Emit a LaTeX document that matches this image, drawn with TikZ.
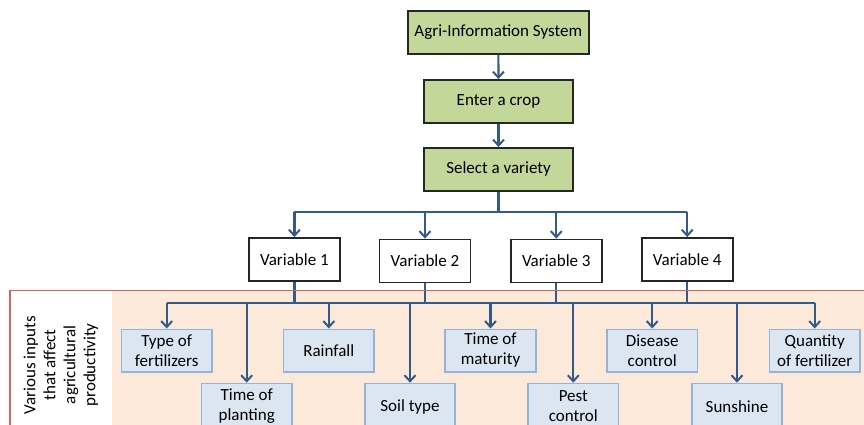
\documentclass[tikz,border=0pt]{standalone}
\usepackage{fontspec}
\setmainfont{Carlito}
\usetikzlibrary{arrows.meta}
\definecolor{arrowblue}{RGB}{52,90,140}
\definecolor{greenfill}{RGB}{196,215,155}
\definecolor{bluefill}{RGB}{220,230,242}
\definecolor{blueborder}{RGB}{149,179,215}
\definecolor{pinkfill}{RGB}{253,233,217}
\definecolor{redborder}{RGB}{212,100,96}
\tikzset{
  txt/.style={font=\fontsize{17}{20}\selectfont, align=center, inner sep=0pt},
  greenbox/.style={txt, draw=black!85, line width=1.8pt, fill=greenfill, minimum height=42.7pt},
  varbox/.style={txt, draw=black!85, line width=1.8pt, fill=white, minimum width=91pt, minimum height=43pt},
  itembox/.style={txt, draw=blueborder, line width=1.6pt, fill=bluefill, minimum width=90.5pt},
  conn/.style={draw=arrowblue, line width=2.2pt},
  arr/.style={conn, -{Straight Barb[length=6pt,width=11pt,line width=2pt]}},
}
\begin{document}
\begin{tikzpicture}[x=1pt,y=-1pt]
\useasboundingbox (0,0) rectangle (864,425);
% background panel
\fill[pinkfill] (112,291) rectangle (880,450);
% nodes
\node[greenbox, minimum width=181pt] (agri) at (498.3,32.3) {Agri-Information System};
\node[greenbox, minimum width=149pt] (crop) at (498.5,101.3) {Enter a crop};
\node[greenbox, minimum width=149pt] (var) at (498.5,169.3) {Select a variety};
\node[varbox] (v1) at (294.4,259.5) {Variable 1};
\node[varbox] (v2) at (425,261) {Variable 2};
\node[varbox] (v3) at (556.3,261) {Variable 3};
\node[varbox] (v4) at (687.2,259.5) {Variable 4};
\node[itembox, minimum height=42.4pt] (i1) at (166.7,350.5) {Type of\\fertilizers};
\node[itembox, minimum height=42.4pt] (i3) at (328.8,350.5) {Rainfall};
\node[itembox, minimum height=42.4pt] (i5) at (490.5,350.5) {Time of\\maturity};
\node[itembox, minimum height=42.4pt] (i7) at (652.2,350.5) {Disease\\control};
\node[itembox, minimum height=42.4pt] (i9) at (814.7,350.5) {Quantity\\of fertilizer};
\node[itembox, minimum height=46pt, anchor=north] (i2) at (246.7,382.7) {Time of\\planting};
\node[itembox, minimum height=46pt, anchor=north] (i4) at (410,382.7) {Soil type};
\node[itembox, minimum height=46pt, anchor=north] (i6) at (573.3,382.7) {Pest\\control};
\node[itembox, minimum height=46pt, anchor=north] (i8) at (737,382.7) {Sunshine};
\node[txt, rotate=90] (lbl) at (61,365) {Various inputs\\that affect\\agricultural\\productivity};
% bus coordinates
\coordinate (b1) at (0,212);
\coordinate (b2) at (0,303);
% connectors top
\draw[arr] (agri) -- (crop);
\draw[arr] (crop) -- (var);
\draw[conn] (var.south) -- (var.south |- b1);
\draw[conn] (v1.north |- b1) -- (v4.north |- b1);
\foreach \n in {v1,v2,v3,v4}{
  \draw[arr] (\n.north |- b1) -- (\n.north);
}
% lower bus
\foreach \n in {v1,v2,v3,v4}{
  \draw[conn] (\n.south) -- (\n.south |- b2);
}
\draw[conn] (i1.north |- b2) -- (i9.north |- b2);
\foreach \n in {i1,i2,i3,i4,i5,i6,i7,i8,i9}{
  \draw[arr] (\n.north |- b2) -- (\n.north);
}
% red frame
\draw[redborder, line width=1.4pt] (10,450) -- (10,290.7) -- (880,290.7);
\end{tikzpicture}
\end{document}
